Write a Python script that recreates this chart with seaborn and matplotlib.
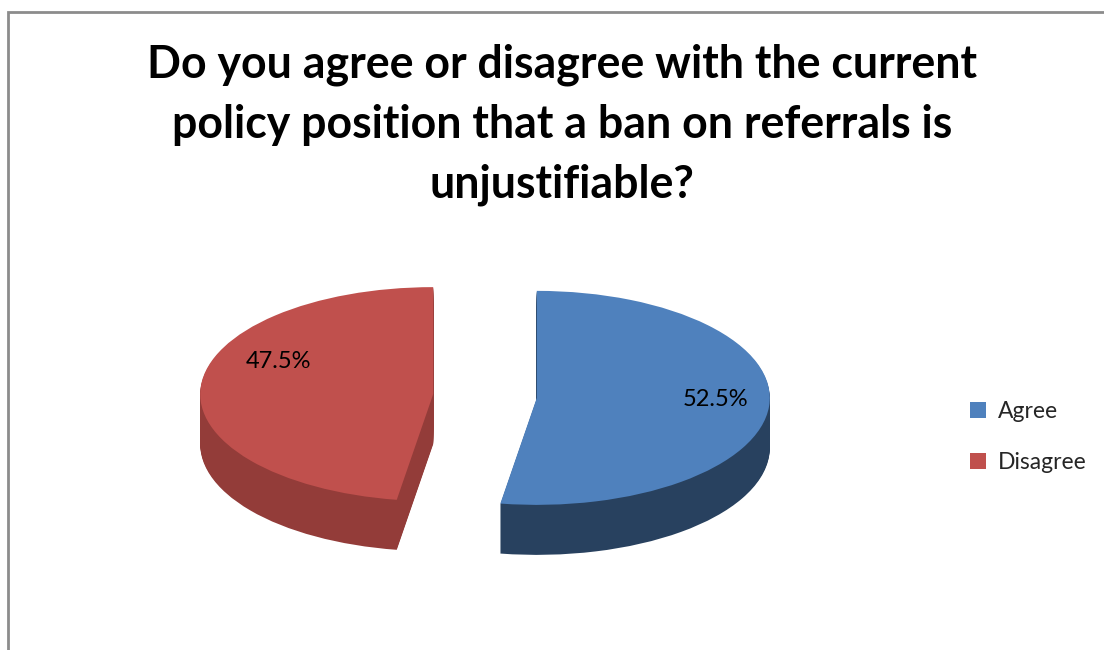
import matplotlib
matplotlib.use("Agg")
import matplotlib.pyplot as plt
import seaborn as sns
from matplotlib.patches import Rectangle

sns.set_theme(style="white")
plt.rcParams['font.family'] = ['Lato', 'DejaVu Sans']

# ---- data ----
categories = ["Agree", "Disagree"]
shares = [52.5, 47.5]
title_lines = ["Do you agree or disagree with the current",
               "policy position that a ban on referrals is",
               "unjustifiable?"]

top_colors = ["#4F81BD", "#C0504D"]
side_colors = ["#28415F", "#933C39"]

W, H = 1104, 650
fig = plt.figure(figsize=(W / 100, H / 100), dpi=100)
fig.patch.set_facecolor("white")

# chart border (left + top visible)
fig.patches.append(Rectangle((8 / W, -0.2), 1.2, 1.2 - 12 / H,
                             transform=fig.transFigure, fill=False,
                             edgecolor="#8C8C8C", linewidth=2, zorder=0))

# ---- pie axes (ellipse via non-equal scaling) ----
rx, ry = 233, 107          # px per unit radius
cx, cy = 485, 396          # pie centre in px
left_px, right_px, top_px, bot_px = 135, 835, 240, 630
ax = fig.add_axes([left_px / W, (H - bot_px) / H,
                   (right_px - left_px) / W, (bot_px - top_px) / H])

explode = [0.223, 0.223]
depth = 50 / ry
n_layers = 50
for k in range(n_layers, 0, -1):
    off = -depth * k / n_layers
    ax.pie(shares, colors=side_colors, startangle=90, counterclock=False,
           explode=explode, center=(0, off),
           wedgeprops=dict(linewidth=0, antialiased=True))

wedges, _, autotexts = ax.pie(shares, colors=top_colors, startangle=90,
                              counterclock=False, explode=explode,
                              autopct="%.1f%%", pctdistance=0.76,
                              wedgeprops=dict(linewidth=0),
                              textprops=dict(fontsize=17, color="black"))
label_px = [(715, 400), (278, 362)]
for t, (px, py) in zip(autotexts, label_px):
    t.set_position(((px - cx) / rx, (cy - py) / ry))
    t.set_ha("center"); t.set_va("center")

ax.set_aspect("auto")
ax.set_xlim((left_px - cx) / rx, (right_px - cx) / rx)
ax.set_ylim((cy - bot_px) / ry, (cy - top_px) / ry)
ax.axis("off")

# ---- title ----
renderer = fig.canvas.get_renderer()
baselines = [78, 138, 198]
fs = 30
probe = fig.text(0, 0, title_lines[0], fontsize=fs, fontweight="bold")
wpx = probe.get_window_extent(renderer).width
probe.remove()
fs = fs * 829 / wpx
for line, b in zip(title_lines, baselines):
    fig.text(562 / W, 1 - b / H, line, fontsize=fs, fontweight="bold",
             ha="center", va="baseline", color="black")

# ---- legend ----
fig.legend(wedges, categories, loc="upper left",
           bbox_to_anchor=(970 / W, 1 - 401 / H), frameon=False,
           fontsize=16.5, handlelength=0.7, handleheight=0.7,
           handletextpad=0.5, labelspacing=1.32, borderpad=0,
           borderaxespad=0)

fig.savefig("out.png", dpi=100, facecolor="white")
